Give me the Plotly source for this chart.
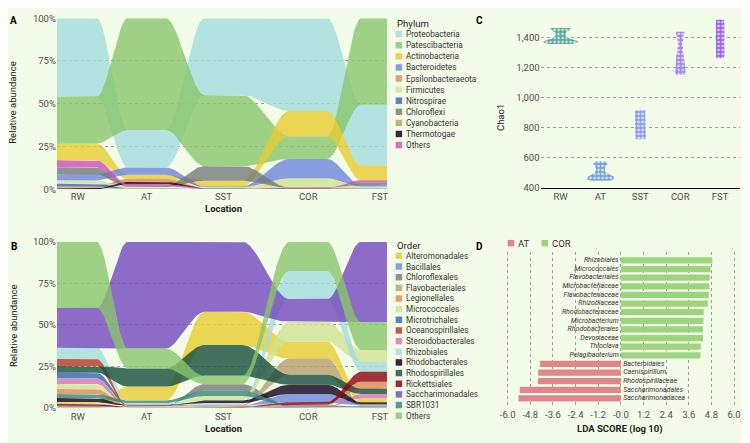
import numpy as np
import plotly.graph_objects as go

W, H = 750, 443
OFF = 8  # page body margin compensation
BG = "#f2fce8"
FONT = "Roboto"
TICKC = "#4d4d4d"

locations = ["RW", "AT", "SST", "COR", "FST"]

# ---------------- Panel A : Phylum relative abundance (%) ----------------
phyla = ["Proteobacteria", "Patescibacteria", "Actinobacteria", "Bacteroidetes",
         "Epsilonbacteraeota", "Firmicutes", "Nitrospirae", "Chloroflexi",
         "Cyanobacteria", "Thermotogae", "Others"]
phylum_colors = ["#b3e2df", "#9dd085", "#e9d553", "#879ddf", "#e3a072", "#d7e6a3",
                 "#5b80c2", "#8e9292", "#c4b187", "#3d2244", "#d66fbf"]
phylum_RW = [46.0, 27.4, 9.7, 3.7, 0.6, 1.9, 1.5, 3.9, 0.6, 0.5, 4.2]
phylum_AT = [21.9, 65.4, 2.3, 4.3, 1.9, 0.5, 0.3, 0.6, 0.5, 1.3, 1.0]
phylum_SST = [45.0, 41.5, 3.3, 0.6, 0.2, 0.3, 0.1, 8.5, 0.1, 0.2, 0.2]
phylum_COR = [54.2, 13.3, 14.8, 11.4, 0.2, 5.3, 0.1, 0.3, 0.1, 0.1, 0.2]
phylum_FST = [35.5, 50.6, 8.6, 1.1, 0.3, 0.5, 0.3, 1.2, 0.2, 0.2, 1.5]

# ---------------- Panel B : Order relative abundance (%) ----------------
orders = ["Alteromonadales", "Bacillales", "Chloroflexales", "Flavobacteriales",
          "Legionellales", "Micrococcales", "Microtrichales", "Oceanospirillales",
          "Steroidobacterales", "Rhizobiales", "Rhodobacterales", "Rhodospirillales",
          "Rickettsiales", "Saccharimonadales", "SBR1031", "Others"]
order_colors = ["#e9d553", "#879ddf", "#8e9292", "#c4b187", "#e3a072", "#d7e6a3",
                "#5b80c2", "#c05d48", "#dd8bc0", "#b3e2df", "#3d2244", "#43705e",
                "#a2263a", "#8c6bc6", "#5d9a90", "#9dd085"]
order_RW = [1.2, 0.5, 0.4, 0.3, 3.0, 3.1, 3.5, 4.2, 3.3, 6.8, 2.3, 4.1, 1.1, 24.0, 2.4, 39.8]
order_AT = [8.5, 0.3, 0.2, 0.2, 0.2, 0.3, 0.3, 0.2, 0.2, 0.5, 0.3, 11.0, 0.1, 64.3, 1.4, 12.0]
order_SST = [20.0, 0.3, 3.9, 0.5, 0.3, 2.6, 0.2, 0.1, 0.2, 1.0, 1.6, 18.6, 0.2, 42.2, 3.3, 5.0]
order_COR = [10.2, 5.0, 0.3, 9.8, 0.5, 11.9, 0.2, 0.1, 0.3, 16.9, 5.6, 5.9, 1.4, 13.8, 0.5, 17.6]
order_FST = [2.4, 0.6, 0.2, 0.5, 4.3, 7.1, 0.3, 0.1, 2.5, 6.0, 1.3, 3.2, 5.9, 48.3, 0.3, 17.0]

# ---------------- Panel C : Chao1 samples ----------------
chao1_RW = [1356, 1362, 1368, 1372, 1376, 1382, 1392, 1410, 1430, 1450, 1456, 1462]
chao1_AT = [445, 452, 460, 466, 472, 480, 495, 520, 545, 560, 573]
chao1_SST = [722, 745, 770, 795, 820, 845, 870, 895, 918]
chao1_COR = [1152, 1172, 1192, 1215, 1238, 1262, 1290, 1330, 1375, 1415, 1438]
chao1_FST = [1262, 1293, 1325, 1357, 1390, 1422, 1455, 1487, 1518]
violin_colors = ["#5fa89e", "#79a5d6", "#8d9ff2", "#9c86f2", "#9a62ee"]
violin_bw = [10, 12, 14, 14, 16]
chao1_ticks = [400, 600, 800, 1000, 1200, 1400]
chao1_ticklabels = ["400", "600", "800", "1,000", "1,200", "1,400"]

# ---------------- Panel D : LDA scores ----------------
lda_features = ["Rhizobiales", "Micrococcales", "Flavobacteriales", "Microbacteriaceae",
                "Flavobacteriaceae", "Rhizobiaceae", "Rhodobacteraceae", "Microbacterium",
                "Rhodobacterales", "Devosiaceae", "Thioclava", "Pelagibacterium",
                "Bacteroidales", "Caenispirillum", "Rhodospirillaceae",
                "Saccharimonadales", "Saccharimonadacea"]
lda_scores = [4.85, 4.76, 4.71, 4.69, 4.66, 4.61, 4.39, 4.38, 4.36, 4.36, 4.24, 4.22,
              -4.29, -4.38, -4.39, -5.36, -5.43]
lda_groups = ["COR"] * 12 + ["AT"] * 5
lda_group_names = ["AT", "COR"]
lda_group_colors = ["#e0868a", "#9fd47f"]
lda_ticks = [-6.0, -4.8, -3.6, -2.4, -1.2, 0.0, 1.2, 2.4, 3.6, 4.8, 6.0]
lda_ticklabels = ["-6.0", "-4.8", "-3.6", "-2.4", "-1.2", "-0.0", "1.2", "2.4", "3.6", "4.8", "6.0"]

# ---------------- helpers ----------------
def px(x):
    return (x - OFF) / W

def py(y):
    return 1 - (y - OFF) / H

def hex_rgb(h):
    h = h.lstrip("#")
    return np.array([int(h[i:i + 2], 16) for i in (0, 2, 4)], dtype=float)

ALPHA = 0.8

def flow_rgba(obs):
    o, b = hex_rgb(obs), hex_rgb(BG)
    c = np.clip((o - (1 - ALPHA) * b) / ALPHA, 0, 255).round().astype(int)
    return f"rgba({c[0]},{c[1]},{c[2]},{ALPHA})"

def stack(cols):
    v = np.array(cols, dtype=float)          # (n_loc, n_taxa)
    v = v / v.sum(axis=1, keepdims=True) * 100
    lo = np.zeros_like(v)
    hi = np.zeros_like(v)
    for j in range(v.shape[0]):
        top = 100.0
        for k in np.argsort(-v[j], kind="stable"):
            hi[j, k] = top
            lo[j, k] = top - v[j, k]
            top -= v[j, k]
    return lo, hi

AX_MAX = 331.0
col_x = [21, 90, 167, 252, 324]
HW = 19

def edge(cx, yv, n=40):
    xs, ys = [], []
    for i in range(len(cx)):
        left = 0 if i == 0 else cx[i] - HW
        right = AX_MAX if i == len(cx) - 1 else cx[i] + HW
        xs += [left, right]
        ys += [yv[i], yv[i]]
        if i < len(cx) - 1:
            t = np.linspace(0, 1, n)[1:-1]
            s = t * t * (3 - 2 * t)
            x0, x1 = right, cx[i + 1] - HW
            xs += list(x0 + (x1 - x0) * t)
            ys += list(yv[i] + (yv[i + 1] - yv[i]) * s)
    return xs, ys

fig = go.Figure()

def add_alluvial(cols, names, colors, xa, ya):
    lo, hi = stack(cols)
    for k, name in enumerate(names):
        xt, yt = edge(col_x, hi[:, k])
        xb, yb = edge(col_x, lo[:, k])
        fig.add_trace(go.Scatter(
            x=xt + xb[::-1], y=yt + yb[::-1], fill="toself", mode="lines",
            line=dict(width=0), fillcolor=flow_rgba(colors[k]), name=name,
            hoverinfo="skip", xaxis=xa, yaxis=ya, showlegend=False))

add_alluvial([phylum_RW, phylum_AT, phylum_SST, phylum_COR, phylum_FST],
             phyla, phylum_colors, "x", "y")
add_alluvial([order_RW, order_AT, order_SST, order_COR, order_FST],
             orders, order_colors, "x2", "y2")

# ---------------- violins ----------------
chao_sets = [chao1_RW, chao1_AT, chao1_SST, chao1_COR, chao1_FST]
grids, dens = [], []
for s, bw in zip(chao_sets, violin_bw):
    s = np.array(s, dtype=float)
    g = np.linspace(s.min(), s.max(), 200)
    d = np.exp(-0.5 * ((g[:, None] - s[None, :]) / bw) ** 2).sum(axis=1) / (len(s) * bw * np.sqrt(2 * np.pi))
    grids.append(g)
    dens.append(d)
gmax = max(d.max() for d in dens)
for i, (g, d) in enumerate(zip(grids, dens)):
    half = 0.45 * d / gmax
    fig.add_trace(go.Scatter(
        x=np.concatenate([i + half, (i - half)[::-1]]),
        y=np.concatenate([g, g[::-1]]),
        fill="toself", mode="lines", line=dict(width=0),
        fillcolor=violin_colors[i],
        fillpattern=dict(shape=".", bgcolor=violin_colors[i], fgcolor="white",
                         fgopacity=0.75, size=4, solidity=0.3),
        hoverinfo="skip", xaxis="x3", yaxis="y3", showlegend=False))

# ---------------- LDA bars ----------------
idx = list(range(len(lda_features)))
for gname, gcol in zip(lda_group_names, lda_group_colors):
    sel = [i for i in idx if lda_groups[i] == gname]
    fig.add_trace(go.Bar(
        x=[lda_scores[i] for i in sel], y=sel, orientation="h", width=0.72,
        marker=dict(color=gcol, line=dict(width=0)), name=gname,
        hoverinfo="skip", xaxis="x4", yaxis="y4", showlegend=False))
LABEL_GAP = 0.12
fig.add_trace(go.Scatter(
    x=[-LABEL_GAP if v > 0 else LABEL_GAP for v in lda_scores], y=idx, mode="text",
    text=lda_features,
    textposition=["middle left" if v > 0 else "middle right" for v in lda_scores],
    textfont=dict(family=FONT, size=7, style="italic", color="#333333"),
    hoverinfo="skip", xaxis="x4", yaxis="y4", showlegend=False))

# ---------------- axes ----------------
tickfont = dict(family=FONT, size=9.5, color=TICKC)
pct_ticks = [0, 25, 50, 75, 100]
pct_labels = ["0%", "25%", "50%", "75%", "100%"]
common_x = dict(range=[0, AX_MAX], tickvals=col_x, ticktext=locations, showgrid=False,
                zeroline=False, showline=False, ticks="", tickfont=tickfont, fixedrange=True)
common_y = dict(range=[0, 100], tickvals=pct_ticks, ticktext=pct_labels, showgrid=True,
                gridcolor="#9c9c9c", griddash="dot", gridwidth=1, zeroline=False,
                ticks="", tickfont=tickfont)

fig.update_layout(
    width=W, height=H, margin=dict(l=0, r=0, t=0, b=0),
    paper_bgcolor=BG, plot_bgcolor=BG, showlegend=False,
    font=dict(family=FONT, color="#222222"), barmode="overlay",
    xaxis=dict(domain=[px(57), px(388)], anchor="y", **common_x),
    yaxis=dict(domain=[py(187.7), py(12.3)], anchor="x", **common_y),
    xaxis2=dict(domain=[px(57), px(388)], anchor="y2", ticklabelstandoff=2, **common_x),
    yaxis2=dict(domain=[py(411.7), py(241.7)], anchor="x2", **common_y),
    xaxis3=dict(domain=[px(542), px(742)], anchor="y3", range=[-0.5, 4.5],
                tickvals=list(range(5)), ticktext=locations, showgrid=False,
                zeroline=False, showline=True, linecolor="#000000", linewidth=1,
                ticks="", tickfont=tickfont),
    yaxis3=dict(domain=[py(186), py(10)], anchor="x3", range=[400, 400 + 176 / 0.154],
                tickvals=chao1_ticks, ticktext=chao1_ticklabels, showgrid=True,
                gridcolor="#9c9c9c", griddash="dot", zeroline=False, ticks="",
                tickfont=tickfont),
    xaxis4=dict(domain=[px(500), px(745)], anchor="y4", range=[-6.476, 6.476],
                tickvals=lda_ticks, ticktext=lda_ticklabels, showgrid=True,
                gridcolor="#9c9c9c", griddash="dot", zeroline=False, ticks="",
                tickfont=tickfont, ticklabelstandoff=1),
    yaxis4=dict(domain=[py(410.5), py(252)], anchor="x4", range=[16.94, -0.99],
                showticklabels=False, showgrid=False, zeroline=False),
)

# ---------------- text: titles, panel letters ----------------
ann = []
def text(x, y, s, size=9.5, bold=False, color="#222222", xanchor="center", angle=0):
    ann.append(dict(x=px(x), y=py(y), xref="paper", yref="paper", text=s, showarrow=False,
                    xanchor=xanchor, yanchor="middle", textangle=angle,
                    font=dict(family=FONT, size=size, color=color,
                              weight="bold" if bold else "normal")))

for lab, x, y in [("A", 14, 15), ("B", 14, 246), ("C", 481, 15), ("D", 481, 246)]:
    text(x, y, lab, size=10, bold=True, color="#000000")
text(13, 98, "Relative abundance", angle=-90)
text(13, 327, "Relative abundance", angle=-90)
text(224, 207, "Location", bold=True)
text(224, 433, "Location", bold=True)
text(502, 114, "Chao1", angle=-90)
text(622, 434, "LDA SCORE (log 10)", bold=True)

# ---------------- manual legends ----------------
shapes = []
def legend(title, names, colors, x0, ytitle, yfirst, step):
    text(x0, ytitle, title, size=9.6, xanchor="left")
    for k, (n, c) in enumerate(zip(names, colors)):
        yc = yfirst + k * step
        shapes.append(dict(type="rect", xref="paper", yref="paper",
                           x0=px(x0 + 0.7), x1=px(x0 + 7.2), y0=py(yc + 3.3), y1=py(yc - 3.3),
                           fillcolor=c, line=dict(width=0)))
        text(x0 + 8.8, yc, n, size=8.2, xanchor="left", color="#333333")

legend("Phylum", phyla, phylum_colors, 396, 17.7, 28.7, 11.37)
legend("Order", orders, order_colors, 396, 245.7, 256.0, 10.93)

# D legend (horizontal)
xpos = 509
for n, c in zip(lda_group_names, lda_group_colors):
    shapes.append(dict(type="rect", xref="paper", yref="paper",
                       x0=px(xpos), x1=px(xpos + 6.6), y0=py(246.3), y1=py(239.7),
                       fillcolor=c, line=dict(width=0)))
    text(xpos + 8.5, 243, n, size=9.5, xanchor="left", color="#333333")
    xpos += 34

fig.update_layout(annotations=ann, shapes=shapes)
fig.write_html("out.html")
